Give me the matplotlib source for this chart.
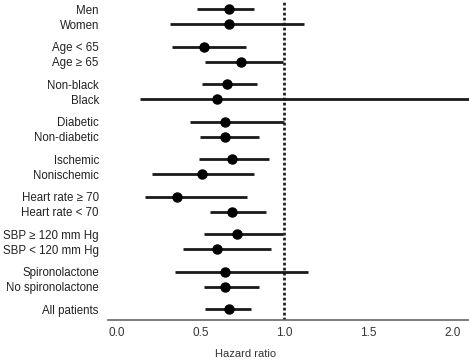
import matplotlib
matplotlib.use("Agg")
from matplotlib import pyplot as plt

plt.rcParams['font.family'] = ['Liberation Sans', 'DejaVu Sans']

# subgroups, grouped in pairs (last one alone)
groups = [
    ["Men", "Women"],
    ["Age < 65", "Age \u2265 65"],
    ["Non-black", "Black"],
    ["Diabetic", "Non-diabetic"],
    ["Ischemic", "Nonischemic"],
    ["Heart rate \u2265 70", "Heart rate < 70"],
    ["SBP \u2265 120 mm Hg", "SBP < 120 mm Hg"],
    ["Spironolactone", "No spironolactone"],
    ["All patients"],
]
hr = [0.67, 0.67, 0.52, 0.74, 0.66, 0.60, 0.65, 0.65, 0.69, 0.51,
      0.36, 0.69, 0.72, 0.60, 0.65, 0.65, 0.67]
ci_low = [0.48, 0.32, 0.33, 0.53, 0.51, 0.14, 0.44, 0.50, 0.49, 0.21,
          0.17, 0.56, 0.52, 0.40, 0.35, 0.52, 0.53]
ci_high = [0.82, 1.12, 0.77, 0.99, 0.84, 2.50, 1.00, 0.85, 0.91, 0.82,
           0.78, 0.89, 0.99, 0.92, 1.14, 0.85, 0.80]
xticks = [0.0, 0.5, 1.0, 1.5, 2.0]

labels = []
ypos = []
for g, names in enumerate(groups):
    for k, name in enumerate(names):
        labels.append(name)
        ypos.append(g * 2.5 + k)

fig = plt.figure(figsize=(4.69, 3.6), dpi=100)
ax = fig.add_axes([0.230, 0.111, 0.770, 0.889])

ax.axvline(1.0, color="#222222", lw=2, ls=(0, (1, 0.8)), zorder=1)
for y, m, lo, hi in zip(ypos, hr, ci_low, ci_high):
    ax.plot([lo, hi], [y, y], color="#1a1a1a", lw=2, solid_capstyle="butt", zorder=2)
    ax.plot(m, y, "o", color="black", ms=6.5, zorder=3)

ax.set_xlim(-0.05, 2.1)
ax.set_ylim(ypos[-1] + 0.73, -0.6)
ax.set_yticks(ypos, labels)
ax.set_xticks(xticks, ["%.1f" % t for t in xticks])
ax.tick_params(axis="y", length=0, pad=6.5, labelsize=8.3, labelcolor="#222222")
ax.tick_params(axis="x", length=0, pad=5, labelsize=8.5, labelcolor="#333333")
for s in ["top", "right", "left"]:
    ax.spines[s].set_visible(False)
ax.spines["bottom"].set_color("#666666")
ax.spines["bottom"].set_linewidth(1.2)
ax.set_xlabel("Hazard ratio", fontsize=8, color="#333333")
ax.xaxis.set_label_coords(0.38, -0.09)

fig.savefig("out.png", dpi=100)
